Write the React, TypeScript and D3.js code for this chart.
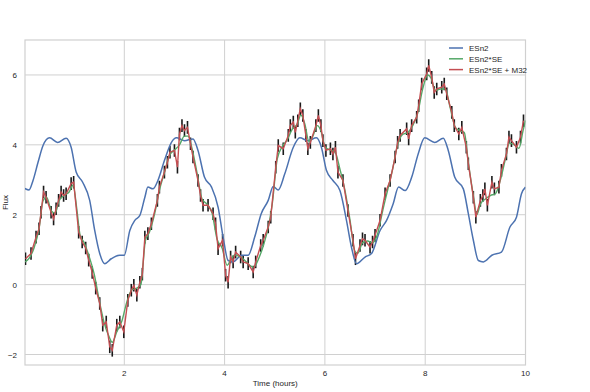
import React from "react";
import * as d3 from "d3";

// Observations (time in hours, flux)
const obsTime = [0.03,0.14,0.24,0.30,0.34,0.39,0.44,0.54,0.59,0.64,0.69,0.74,0.79,0.84,0.94,0.99,1.09,1.16,1.23,1.29,1.36,1.43,1.51,1.57,1.64,1.71,1.76,1.85,1.91,1.99,2.07,2.14,2.19,2.25,2.31,2.36,2.41,2.47,2.54,2.66,2.70,2.80,2.86,2.91,3.00,3.06,3.10,3.15,3.20,3.26,3.32,3.37,3.47,3.52,3.57,3.67,3.77,3.82,3.87,3.96,4.02,4.07,4.12,4.17,4.22,4.32,4.37,4.47,4.57,4.62,4.72,4.77,4.87,4.92,5.02,5.07,5.17,5.27,5.31,5.37,5.41,5.46,5.51,5.56,5.62,5.66,5.71,5.82,5.87,5.92,5.96,6.02,6.11,6.16,6.21,6.26,6.36,6.46,6.56,6.61,6.70,6.75,6.80,6.90,6.95,7.00,7.10,7.20,7.30,7.40,7.45,7.50,7.63,7.67,7.73,7.83,7.87,7.93,8.03,8.07,8.13,8.18,8.23,8.33,8.38,8.43,8.53,8.58,8.67,8.73,8.82,8.86,8.96,9.01,9.10,9.15,9.19,9.24,9.33,9.38,9.47,9.52,9.62,9.67,9.72,9.82,9.90,9.96];
const obsFlux = [0.74,0.89,1.36,1.60,2.07,2.65,2.50,2.07,1.88,2.17,2.41,2.65,2.55,2.60,2.89,2.93,1.50,1.22,1.05,0.70,0.35,-0.10,-0.54,-1.16,-1.07,-1.78,-1.88,-1.16,-1.07,-1.35,-0.45,-0.16,-0.02,-0.30,0.07,0.30,1.36,1.46,1.74,2.41,2.79,3.22,3.50,3.79,3.84,3.36,4.31,4.55,4.41,4.50,4.03,3.65,2.98,2.55,2.27,2.27,2.03,1.74,1.03,1.27,0.27,0.07,0.79,0.65,0.93,0.79,0.65,0.60,0.36,0.65,1.12,1.27,1.65,1.93,3.36,3.98,3.89,4.27,4.55,4.65,4.36,4.69,5.03,4.84,4.27,3.89,4.07,4.55,4.84,4.55,4.12,3.84,3.89,3.74,3.93,3.22,2.98,2.12,1.27,0.74,1.12,1.31,1.27,1.07,1.22,1.41,1.84,2.60,2.98,3.65,4.07,4.27,4.46,4.17,4.55,4.79,5.12,5.74,6.03,6.27,5.93,5.50,5.60,5.65,5.74,5.46,4.93,4.55,4.31,4.50,3.93,3.46,2.50,1.93,2.41,2.55,2.74,2.27,2.93,2.74,2.79,3.27,3.74,4.22,4.12,3.93,4.22,4.69];
const obsErr = 0.18;

// ESn2 model curve
const blueTime = [0.0,0.1,0.18,0.28,0.38,0.51,0.67,0.84,0.94,1.04,1.17,1.31,1.41,1.51,1.61,1.74,1.91,2.0,2.11,2.21,2.31,2.41,2.47,2.57,2.67,2.8,2.94,3.04,3.2,3.37,3.47,3.6,3.74,3.87,3.97,4.07,4.17,4.34,4.47,4.6,4.73,4.87,4.97,5.07,5.2,5.37,5.5,5.66,5.83,5.93,6.03,6.16,6.3,6.43,6.53,6.63,6.8,6.93,7.1,7.23,7.36,7.47,7.6,7.73,7.86,7.99,8.19,8.36,8.46,8.59,8.76,8.86,8.96,9.06,9.16,9.33,9.52,9.69,9.82,9.92,10.0];
const blueFlux = [2.76,2.71,2.98,3.5,3.98,4.2,4.07,4.19,3.93,3.22,2.93,2.41,1.55,0.89,0.6,0.74,0.84,0.84,1.55,1.84,1.98,2.5,2.79,2.74,2.98,3.55,4.07,4.2,4.12,4.17,3.84,3.07,2.79,2.22,1.36,0.69,0.65,0.84,0.84,1.36,2.03,2.41,2.81,2.71,3.17,3.93,4.2,4.12,4.2,3.93,3.27,2.98,2.69,1.84,1.07,0.6,0.79,0.89,1.55,1.84,2.31,2.79,2.69,3.07,3.74,4.2,4.07,4.19,3.84,3.07,2.74,2.03,1.27,0.69,0.65,0.84,0.93,1.65,1.93,2.6,2.79];

// ESn2*SE model curve
const greenTime = [0.02,0.1,0.2,0.3,0.38,0.45,0.55,0.62,0.7,0.8,0.9,0.98,1.05,1.12,1.2,1.3,1.4,1.5,1.6,1.7,1.76,1.85,1.95,2.05,2.15,2.25,2.33,2.42,2.5,2.6,2.7,2.8,2.9,3.0,3.1,3.2,3.27,3.35,3.45,3.55,3.65,3.75,3.85,3.95,4.05,4.12,4.2,4.3,4.4,4.5,4.58,4.68,4.78,4.88,4.95,5.05,5.15,5.25,5.35,5.45,5.52,5.6,5.68,5.76,5.85,5.92,6.0,6.1,6.2,6.3,6.4,6.5,6.6,6.66,6.75,6.85,6.95,7.05,7.15,7.25,7.35,7.45,7.55,7.65,7.75,7.85,7.95,8.05,8.12,8.2,8.3,8.4,8.5,8.6,8.7,8.78,8.86,8.96,9.03,9.1,9.2,9.3,9.4,9.5,9.6,9.68,9.78,9.87,9.95,10.0];
const greenFlux = [0.65,0.75,1.05,1.6,2.4,2.5,2.1,2.05,2.4,2.55,2.65,2.85,2.2,1.4,1.2,0.8,0.3,-0.45,-1.1,-1.5,-1.65,-1.35,-1.05,-0.5,-0.15,-0.1,0.0,1.25,1.5,2.0,2.7,3.2,3.7,3.85,4.0,4.25,4.25,3.9,3.2,2.45,2.3,2.05,1.3,1.05,0.55,0.7,0.85,0.8,0.7,0.55,0.5,0.75,1.15,1.7,2.3,3.6,3.95,4.15,4.45,4.6,4.85,4.6,4.1,4.25,4.55,4.4,3.95,3.85,3.8,3.3,2.7,1.85,0.95,0.9,1.2,1.25,1.2,1.45,2.1,2.7,3.3,4.0,4.3,4.35,4.55,4.9,5.6,6.0,5.9,5.55,5.6,5.6,5.05,4.5,4.4,4.35,3.5,2.55,2.0,2.3,2.45,2.55,2.6,3.0,3.6,4.05,4.0,3.9,4.4,4.7];

const xTicks = [2, 4, 6, 8, 10];
const yTicks = [-2, 0, 2, 4, 6];
const legendLabels = ["ESn2", "ESn2*SE", "ESn2*SE + M32"];
const colors = ["#4C72B0", "#55A868", "#C44E52"];

export default function App() {
  const W = 590, H = 392;
  const left = 25, right = 525.5, top = 40, bottom = 365;
  const x = d3.scaleLinear().domain([0.02, 10]).range([left, right]);
  const y = d3.scaleLinear().domain([-2.3, 7]).range([bottom, top]);
  const font = "'Liberation Sans', Arial, sans-serif";

  const mk = (ts: number[], vs: number[], curve: d3.CurveFactory) =>
    d3.line<number>().x((_, i) => x(ts[i])).y((v) => y(v)).curve(curve)(vs) || "";

  const bluePath = mk(blueTime, blueFlux, d3.curveMonotoneX);
  const greenPath = mk(greenTime, greenFlux, d3.curveMonotoneX);
  const redPath = mk(obsTime, obsFlux, d3.curveLinear);

  return (
    <svg width={W} height={H} style={{ position: "absolute", left: 0, top: 0, background: "#fff" }} fontFamily={font}>
      <defs>
        <clipPath id="plot">
          <rect x={left} y={top} width={right - left} height={bottom - top} />
        </clipPath>
      </defs>
      {xTicks.map((t) => (
        <line key={"gx" + t} x1={x(t)} x2={x(t)} y1={top} y2={bottom} stroke="#d0d0d0" strokeWidth={1} />
      ))}
      {yTicks.map((t) => (
        <line key={"gy" + t} x1={left} x2={right} y1={y(t)} y2={y(t)} stroke="#d0d0d0" strokeWidth={1} />
      ))}
      <rect x={left} y={top} width={right - left} height={bottom - top} fill="none" stroke="#d0d0d0" strokeWidth={1.2} />
      <g clipPath="url(#plot)">
        {obsTime.map((t, i) => (
          <line key={"e" + i} x1={x(t)} x2={x(t)} y1={y(obsFlux[i] - obsErr)} y2={y(obsFlux[i] + obsErr)} stroke="#1a1a1a" strokeWidth={1.6} />
        ))}
        <path d={bluePath} fill="none" stroke={colors[0]} strokeWidth={1.5} />
        <path d={greenPath} fill="none" stroke={colors[1]} strokeWidth={1.4} />
        <path d={redPath} fill="none" stroke={colors[2]} strokeWidth={1.4} />
      </g>
      {xTicks.map((t) => (
        <text key={"tx" + t} x={x(t)} y={376} fontSize={8} textAnchor="middle" fill="#262626">{t}</text>
      ))}
      {yTicks.map((t) => (
        <text key={"ty" + t} x={17} y={y(t) + 3} fontSize={8} textAnchor="end" fill="#262626">
          {t < 0 ? "\u2212" + Math.abs(t) : String(t)}
        </text>
      ))}
      <text x={(left + right) / 2} y={386} fontSize={8} textAnchor="middle" fill="#262626">Time (hours)</text>
      <text transform={`translate(8,${(top + bottom) / 2}) rotate(-90)`} fontSize={8} textAnchor="middle" fill="#262626">Flux</text>
      {legendLabels.map((lab, i) => (
        <g key={"lg" + i} transform={`translate(0,${48 + i * 10.8})`}>
          <line x1={449} x2={463} y1={0} y2={0} stroke={colors[i]} strokeWidth={1.5} />
          <text x={469} y={3} fontSize={8} fill="#262626">{lab}</text>
        </g>
      ))}
    </svg>
  );
}
